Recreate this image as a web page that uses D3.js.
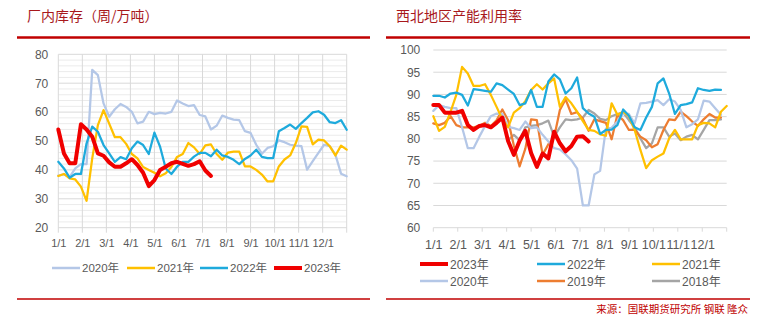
<!DOCTYPE html>
<html><head><meta charset="utf-8">
<script src="https://cdn.jsdelivr.net/npm/d3@7/dist/d3.min.js"></script>
<style>
html,body{margin:0;padding:0;background:#fff;}
svg{display:block;}
text{font-family:"Liberation Sans","Noto Sans CJK SC",Arial,sans-serif;}
</style></head><body>
<svg id="c" width="763" height="324"></svg>
<script>
// ---------- data ----------
const months = ["1/1","2/1","3/1","4/1","5/1","6/1","7/1","8/1","9/1","10/1","11/1","12/1"];
const leftTitle = "厂内库存（周/万吨）";
const rightTitle = "西北地区产能利用率";
const sourceText = "来源：国联期货研究所 钢联 隆众";
const leftYTicks = [20,30,40,50,60,70,80];
const rightYTicks = [60,65,70,75,80,85,90,95,100];

// left: inventory (10k t), weekly
const inv2020 = [38,38.5,37.5,40.5,42,42,74.6,72.8,63,58.4,61,62.8,61.8,60.1,56.1,56.7,60.1,59.3,59.7,59.5,60.1,64,63,62.1,62.4,59,58.5,54,55.3,58.8,58,57.4,57.2,53.4,52.8,48.7,45.6,47.6,48.2,50.2,49.6,48.7,48.4,48.2,40.1,43,45.9,48.7,48.2,45.3,38.7,37.8];
const inv2021 = [37.9,38.6,37.1,36.7,34.2,29.3,44,55.5,60.7,56,51.3,51.3,49,45.5,44,41,40,39,37.8,38.8,41,44.5,45.5,49.3,47.8,45.5,48.5,48.8,45.5,43.5,46,46.3,46.3,41.2,41.2,40,38.4,36,36,41.2,43.6,45,49.3,55.1,54.9,48.8,50.5,50.2,48.2,45,48.4,47];
const inv2022 = [42.8,40.5,37.3,38.6,38.6,49.2,55,53.2,48.6,45.7,42.8,44.4,43.7,47.5,49.8,48.6,45.5,52.9,48,40.5,38.6,41.1,42.8,42.8,44.6,45.9,45.9,44.7,47,45,44.5,43.5,42,43.8,45,47,44.5,44.1,44.1,53.4,54.5,55.7,54.2,56.2,58,59.9,60.3,59.1,56.5,56.2,57.2,53.9];
const inv2023 = [54,45.7,42.3,42.3,55.8,54,51.5,45.7,44.9,42.6,41.1,41.1,42.3,43.7,41.7,39,34.4,36.5,40,41.1,42.3,42.8,42.1,41.4,42,43,39.8,37.9];

// right: capacity utilisation (%), weekly
const util2023 = [87.6,87.6,85.9,85.9,85.9,86.3,83.1,82.0,82.9,83.1,82.6,83.6,84.8,79.5,76.4,79.6,81.8,76.8,73.7,76.7,75.6,81.6,79,77.2,78.4,80.5,80.6,79.4];
const util2022 = [89.7,89.7,89.3,90.2,90.4,89.9,87.5,91.2,91,90.8,90.6,92.5,92.1,91.1,90.1,87.6,88,91,87.2,87.2,92.9,94.5,93.4,90.2,91.4,93.8,86.9,85.7,85,81.1,82,82.1,83.1,86.6,85.2,82.6,82,84.8,87.2,92.5,93.6,90.2,85.6,87.6,87.8,88.2,91.4,91,90.8,91.1,91];
const util2021 = [85.1,81.8,82.7,86.1,89.9,96.2,94.7,91.9,91.9,92.3,89.9,87.2,84.4,82.6,85.9,86.9,88.5,91,92.3,91.1,92.5,93.6,87.2,89.4,88,86.1,84,82,81.8,81,80.7,88,85.4,86.1,85.1,82,77.5,73.4,75.2,76,76.7,80.1,82,79.9,79.9,79.9,83.1,83.6,83.5,82.6,86.1,87.4];
const util2020 = [86.3,87.6,87.2,86.9,86.9,82.6,77.9,77.9,80.5,82.9,85.1,85.7,85.6,82.7,82.4,82,83.9,82.4,82.6,80.9,79.4,77.9,77.6,76.5,75.2,73.3,65,65,72,72.8,82.3,82.5,83.9,85.7,85.6,83.5,88,88.1,88.4,88.7,87.6,88.9,88.4,86.5,82.6,83.3,84.4,88.6,88.4,86.9,85.4];
const util2019 = [83.5,83.1,83.6,85.1,83.1,82.6,82.6,82.6,82.9,83.6,82.9,84.2,86.6,84.2,78.5,73.8,77.8,84.4,84.2,76.4,78.8,80.3,86.5,88.9,85.6,86,84.5,81.8,84.4,84,83.6,79.9,85.4,84.2,82,82.1,80.5,79.7,78.1,78.8,82,84.4,84.2,86.1,85.1,83.9,82.9,84.4,85.6,84.8,84.8];
const util2018 = [null,null,null,null,null,null,null,null,null,null,null,null,null,79.7,80.9,79.7,82.6,82.9,83.1,83.5,84.1,80.5,82.6,84.4,84.2,84.4,84.8,86.5,85.7,84.5,84.2,85.1,85.6,85.9,84.2,82.6,80.1,77.9,79,82.6,82.6,80.5,81.2,79.7,80.5,80.9,79.9,82,84.2,84.2,84.4];

const leftSeries = [
  {name:"2020年", values:inv2020, color:"#b4c7e7", w:2.25},
  {name:"2021年", values:inv2021, color:"#ffc000", w:2.25},
  {name:"2022年", values:inv2022, color:"#1eaadc", w:2.25},
  {name:"2023年", values:inv2023, color:"#f00000", w:4}
];
const rightSeries = [
  {name:"2023年", values:util2023, color:"#f00000", w:4},
  {name:"2022年", values:util2022, color:"#1eaadc", w:2.25},
  {name:"2021年", values:util2021, color:"#ffc000", w:2.25},
  {name:"2020年", values:util2020, color:"#b4c7e7", w:2.25},
  {name:"2019年", values:util2019, color:"#ed7d31", w:2.25},
  {name:"2018年", values:util2018, color:"#a5a5a5", w:2.25}
];
const rightDrawOrder = ["2018年","2019年","2020年","2021年","2022年","2023年"];

// ---------- drawing ----------
const svg = d3.select("#c");
const TXT = "#595959";

function header(x0, x1, tx, title){
  svg.append("text").attr("x",tx).attr("y",21).text(title)
    .attr("fill","#a8181c").style("font-family","'Noto Sans CJK SC',sans-serif")
    .style("font-size","14px");
  svg.append("line").attr("x1",x0).attr("x2",x1).attr("y1",37.5).attr("y2",37.5)
    .attr("stroke","#c00000").attr("stroke-width",2.5);
  svg.append("line").attr("x1",x0).attr("x2",x1).attr("y1",299).attr("y2",299)
    .attr("stroke","#c00000").attr("stroke-width",1.5);
}
header(17,370,27,leftTitle);
header(386,750,396,rightTitle);

// ----- left chart -----
{
  const x = d3.scaleLinear().domain([0,51]).range([58.3,346.7]);
  const m = d3.scaleLinear().domain([0,12]).range([58.3,346.7]);
  const y = d3.scaleLinear().domain([20,80]).range([227.7,54.3]);
  const g = svg.append("g");
  g.selectAll("line.minor").data(d3.range(22,80,2).filter(v=>v%10!==0)).join("line")
    .attr("x1",m(0)).attr("x2",m(12)).attr("y1",d=>y(d)).attr("y2",d=>y(d))
    .attr("stroke","#ebebeb").attr("stroke-width",1);
  g.selectAll("line.major").data(leftYTicks).join("line")
    .attr("x1",m(0)).attr("x2",m(12)).attr("y1",d=>y(d)).attr("y2",d=>y(d))
    .attr("stroke","#d9d9d9").attr("stroke-width",1);
  g.selectAll("line.vg").data(d3.range(0,13)).join("line")
    .attr("x1",d=>m(d)).attr("x2",d=>m(d)).attr("y1",y(80)).attr("y2",y(20)+5)
    .attr("stroke","#d9d9d9").attr("stroke-width",1);
  const ya = g.append("g").attr("transform",`translate(${m(0)},0)`)
    .call(d3.axisLeft(y).tickValues(leftYTicks).tickSize(0).tickPadding(10));
  ya.select(".domain").remove();
  ya.selectAll("text").attr("fill",TXT).style("font-size","12px");
  const xa = g.append("g").attr("transform",`translate(0,${y(20)})`)
    .call(d3.axisBottom(m).tickValues(d3.range(0,12)).tickFormat(i=>months[i]).tickSize(0).tickPadding(12));
  xa.select(".domain").remove();
  xa.selectAll("text").attr("fill",TXT).style("font-size","11px");
  leftSeries.forEach(s=>{
    const ln = d3.line().defined(d=>d!=null).x((d,i)=>x(i)).y(d=>y(d));
    g.append("path").datum(s.values).attr("d",ln).attr("fill","none")
      .attr("stroke",s.color).attr("stroke-width",s.w)
      .attr("stroke-linejoin","round").attr("stroke-linecap","round");
  });
  const lx = [52,127,200,274];
  leftSeries.forEach((s,i)=>{
    g.append("line").attr("x1",lx[i]).attr("x2",lx[i]+28).attr("y1",268).attr("y2",268)
      .attr("stroke",s.color).attr("stroke-width",s.w===4?4:2.5);
    g.append("text").attr("x",lx[i]+30).attr("y",272).text(s.name)
      .attr("fill",TXT).style("font-size","11.5px");
  });
}

// ----- right chart -----
{
  const x = d3.scaleLinear().domain([0,51]).range([433.3,726.7]);
  const m = d3.scaleLinear().domain([0,12]).range([433.3,726.7]);
  const y = d3.scaleLinear().domain([60,100]).range([227.7,50]);
  const g = svg.append("g");
  g.selectAll("line.major").data(rightYTicks).join("line")
    .attr("x1",m(0)).attr("x2",m(12)).attr("y1",d=>y(d)).attr("y2",d=>y(d))
    .attr("stroke","#d9d9d9").attr("stroke-width",1);
  g.selectAll("line.tk").data(d3.range(0,13)).join("line")
    .attr("x1",d=>m(d)).attr("x2",d=>m(d)).attr("y1",y(60)).attr("y2",y(60)+4)
    .attr("stroke","#d9d9d9").attr("stroke-width",1);
  const ya = g.append("g").attr("transform",`translate(${m(0)},0)`)
    .call(d3.axisLeft(y).tickValues(rightYTicks).tickSize(0).tickPadding(13));
  ya.select(".domain").remove();
  ya.selectAll("text").attr("fill",TXT).style("font-size","12px");
  const xa = g.append("g").attr("transform",`translate(0,${y(60)})`)
    .call(d3.axisBottom(m).tickValues(d3.range(0,12)).tickFormat(i=>months[i]).tickSize(0).tickPadding(12));
  xa.select(".domain").remove();
  xa.selectAll("text").attr("fill",TXT).style("font-size","12.5px");
  rightDrawOrder.forEach(n=>{
    const s = rightSeries.find(r=>r.name===n);
    const ln = d3.line().defined(d=>d!=null).x((d,i)=>x(i)).y(d=>y(d));
    g.append("path").datum(s.values).attr("d",ln).attr("fill","none")
      .attr("stroke",s.color).attr("stroke-width",s.w)
      .attr("stroke-linejoin","round").attr("stroke-linecap","round");
  });
  const cx = [420,537,652], ry = [264,281];
  rightSeries.forEach((s,i)=>{
    const xx = cx[i%3], yy = ry[Math.floor(i/3)];
    g.append("line").attr("x1",xx).attr("x2",xx+28).attr("y1",yy).attr("y2",yy)
      .attr("stroke",s.color).attr("stroke-width",s.w===4?4:2.5);
    g.append("text").attr("x",xx+30).attr("y",yy+4.5).text(s.name)
      .attr("fill",TXT).style("font-size","12px");
  });
  svg.append("text").attr("x",748).attr("y",313).attr("text-anchor","end").text(sourceText)
    .attr("fill","#c00000").style("font-family","'Noto Sans CJK SC',sans-serif")
    .style("font-size","10.5px");
}
</script>
</body></html>
